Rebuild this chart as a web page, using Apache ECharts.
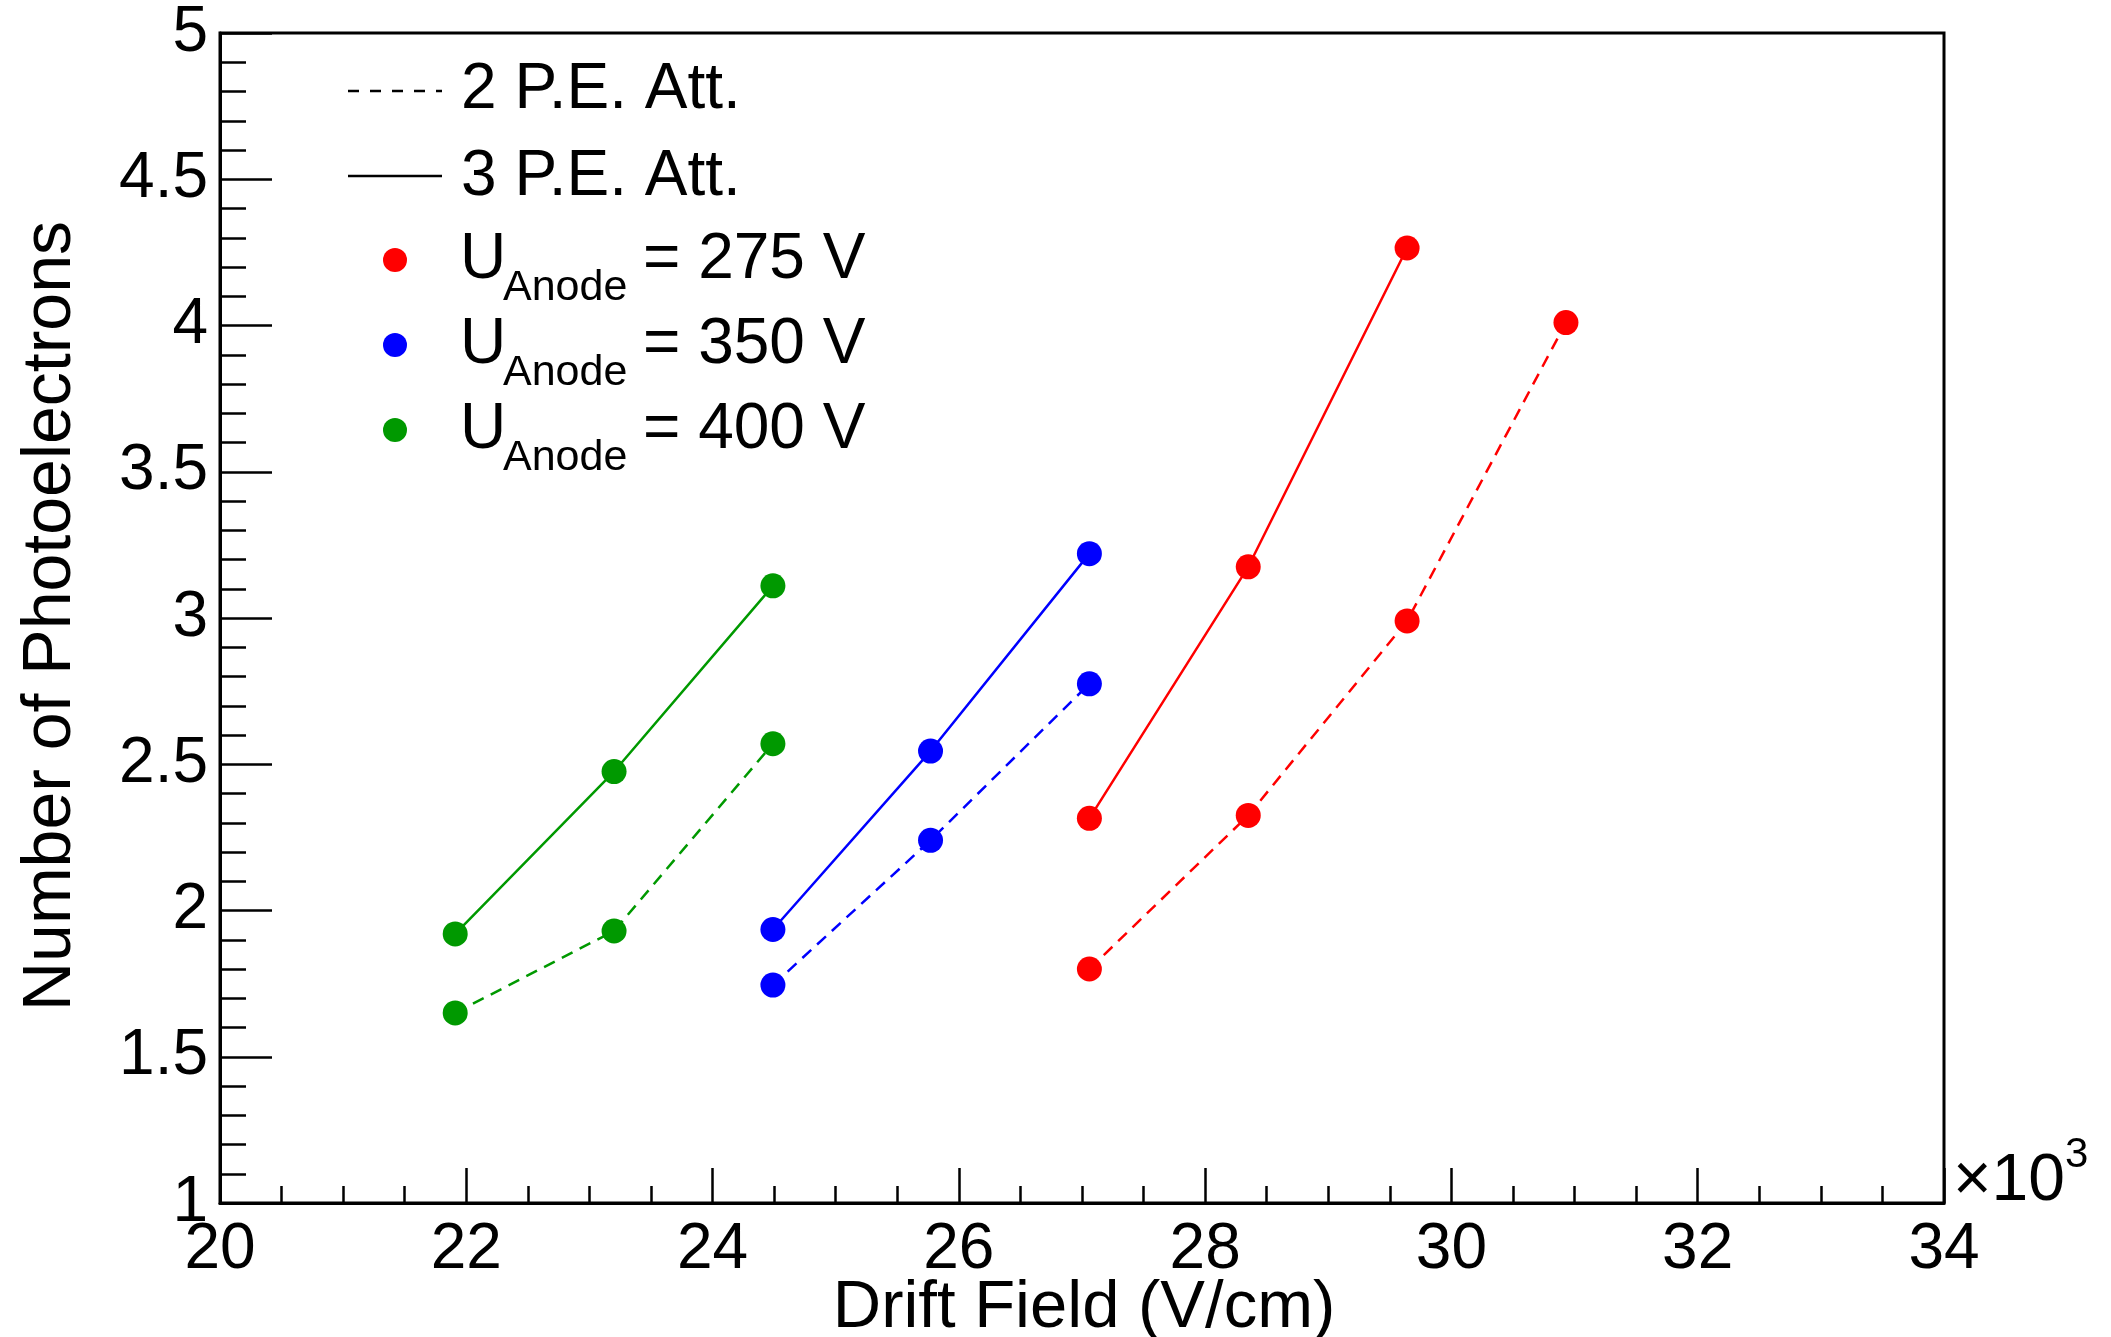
<!DOCTYPE html>
<html>
<head>
<meta charset="utf-8">
<script src="https://cdn.jsdelivr.net/npm/echarts@6/dist/echarts.min.js"></script>
<style>
html,body{margin:0;padding:0;background:#fff;}
#chart{width:2111px;height:1337px;}
</style>
</head>
<body>
<div id="chart"></div>
<script>
// ---- data (drift field in V/cm, number of photoelectrons) ----
const x400 = [21910, 23200, 24490];
const pe2_400 = [1.65, 1.93, 2.57];
const pe3_400 = [1.92, 2.475, 3.11];

const x350 = [24490, 25770, 27060];
const pe2_350 = [1.745, 2.24, 2.775];
const pe3_350 = [1.935, 2.545, 3.22];

const x275_2 = [27060, 28350, 29640, 30930];
const pe2_275 = [1.80, 2.325, 2.99, 4.01];
const x275_3 = [27060, 28350, 29640];
const pe3_275 = [2.315, 3.175, 4.265];

const xTickLabels = ['20','22','24','26','28','30','32','34'];
const legendLines = ['2 P.E. Att.', '3 P.E. Att.'];
const anodeLabels = ['= 275 V', '= 350 V', '= 400 V'];

const RED = '#ff0000', BLUE = '#0000ff', GREEN = '#009900';
const FONT = '"Liberation Sans", Arial, Helvetica, sans-serif';
const DASH = [12, 8];

function pts(xs, ys){ return xs.map((x,i)=>[x, ys[i]]); }

function mkSeries(name, xs, ys, color, dashed){
  return {
    name: name, type: 'line', data: pts(xs, ys),
    symbol: 'circle', symbolSize: 25, showSymbol: true,
    lineStyle: {color: color, width: 2.5, type: dashed ? DASH : 'solid'},
    itemStyle: {color: color, borderWidth: 0},
    emphasis: {disabled: true},
    animation: false
  };
}

const chart = echarts.init(document.getElementById('chart'), null, {renderer:'canvas'});

const legendX1 = 348, legendX2 = 442, legendTextX = 461;
const rowY = [260, 345, 430];
const colors = [RED, BLUE, GREEN];
const graphics = [];
// line style legend
graphics.push({type:'line', shape:{x1:legendX1,y1:91,x2:legendX2,y2:91}, style:{stroke:'#000', lineWidth:2.5, lineDash:[11,11]}});
graphics.push({type:'text', x:legendTextX, y:90, style:{text:legendLines[0], font:'64px '+FONT, fill:'#000', textAlign:'left', textVerticalAlign:'middle'}});
graphics.push({type:'line', shape:{x1:legendX1,y1:176,x2:legendX2,y2:176}, style:{stroke:'#000', lineWidth:2.5}});
graphics.push({type:'text', x:legendTextX, y:177, style:{text:legendLines[1], font:'64px '+FONT, fill:'#000', textAlign:'left', textVerticalAlign:'middle'}});
for(let i=0;i<3;i++){
  const cy = rowY[i];
  graphics.push({type:'circle', shape:{cx:395, cy:cy, r:12}, style:{fill:colors[i]}});
  graphics.push({type:'text', x:460, y:cy, style:{text:'U', font:'64px '+FONT, fill:'#000', textAlign:'left', textVerticalAlign:'middle'}});
  graphics.push({type:'text', x:503, y:cy+28, style:{text:'Anode', font:'43px '+FONT, fill:'#000', textAlign:'left', textVerticalAlign:'middle'}});
  graphics.push({type:'text', x:643, y:cy, style:{text:anodeLabels[i], font:'64px '+FONT, fill:'#000', textAlign:'left', textVerticalAlign:'middle'}});
}
// axis titles
graphics.push({type:'text', x:1084, y:1309, style:{text:'Drift Field (V/cm)', font:'67px '+FONT, fill:'#000', textAlign:'center', textVerticalAlign:'middle'}});
graphics.push({type:'text', x:51, y:616, rotation:Math.PI/2, style:{text:'Number of Photoelectrons', font:'68px '+FONT, fill:'#000', textAlign:'center', textVerticalAlign:'middle'}});
// x10^3
graphics.push({type:'text', x:1953, y:1182, style:{text:'\u00d710', font:'66px '+FONT, fill:'#000', textAlign:'left', textVerticalAlign:'middle'}});
graphics.push({type:'text', x:2065, y:1155, style:{text:'3', font:'42px '+FONT, fill:'#000', textAlign:'left', textVerticalAlign:'middle'}});

const option = {
  backgroundColor: '#fff',
  animation: false,
  grid: {left: 220, right: 167, top: 33, bottom: 134, show: true, borderColor: '#000', borderWidth: 3, containLabel: false},
  xAxis: {
    type: 'value', min: 20000, max: 34000, interval: 2000,
    axisLine: {show: true, onZero: false, lineStyle: {color: '#000', width: 3}},
    axisTick: {show: true, inside: true, length: 35, lineStyle: {color: '#000', width: 2.5}},
    minorTick: {show: true, splitNumber: 4, length: 17, lineStyle: {color: '#000', width: 2.5}},
    splitLine: {show: false},
    axisLabel: {
      show: true, margin: 15, color: '#000', fontSize: 64, fontFamily: FONT,
      formatter: function(v){ const i = Math.round((v-20000)/2000); return xTickLabels[i] !== undefined ? xTickLabels[i] : ''; }
    }
  },
  yAxis: {
    type: 'value', min: 1, max: 5, interval: 0.5,
    axisLine: {show: true, onZero: false, lineStyle: {color: '#000', width: 3}},
    axisTick: {show: true, inside: true, length: 52, lineStyle: {color: '#000', width: 2.5}},
    minorTick: {show: true, splitNumber: 5, length: 26, lineStyle: {color: '#000', width: 2.5}},
    splitLine: {show: false},
    axisLabel: {show: true, margin: 12, color: '#000', fontSize: 64, fontFamily: FONT}
  },
  series: [
    mkSeries('400 2PE', x400, pe2_400, GREEN, true),
    mkSeries('400 3PE', x400, pe3_400, GREEN, false),
    mkSeries('350 2PE', x350, pe2_350, BLUE, true),
    mkSeries('350 3PE', x350, pe3_350, BLUE, false),
    mkSeries('275 2PE', x275_2, pe2_275, RED, true),
    mkSeries('275 3PE', x275_3, pe3_275, RED, false)
  ],
  graphic: graphics
};
chart.setOption(option);
</script>
</body>
</html>
